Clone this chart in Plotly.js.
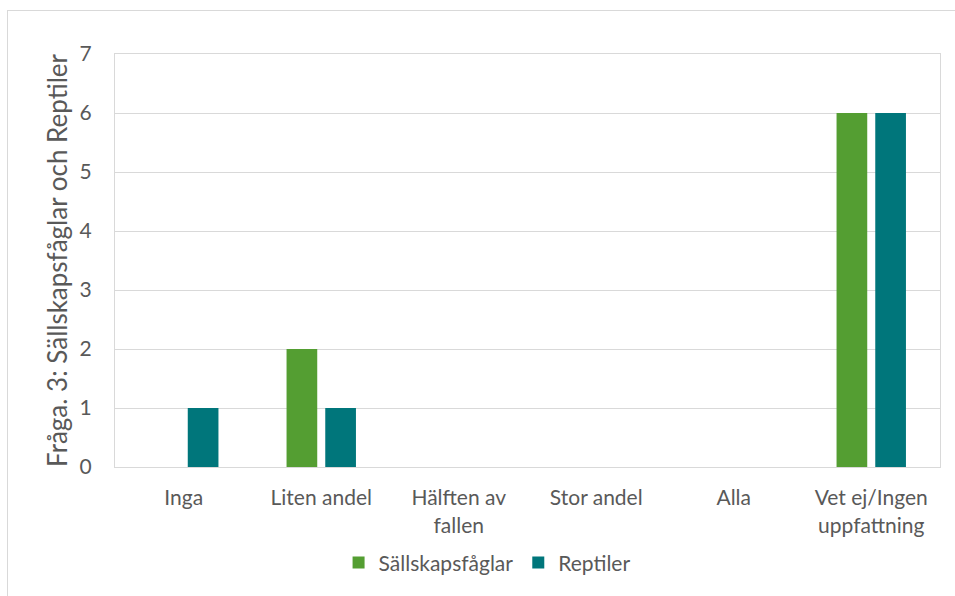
<!DOCTYPE html>
<html>
<head>
<meta charset="utf-8">
<script src="https://cdn.plot.ly/plotly-3.0.1.min.js"></script>
<style>
html, body { margin:0; padding:0; overflow:hidden; background:#ffffff; width:955px; height:596px; }
#frame { position:absolute; left:7px; top:10px; width:1200px; height:800px; border:1px solid #d9d9d9; box-sizing:border-box; }
#chart { position:absolute; left:0; top:0; width:955px; height:596px; }
</style>
</head>
<body>
<div id="frame"></div>
<div id="chart"></div>
<script>
const categories = ["Inga", "Liten andel", "Hälften av<br>fallen", "Stor andel", "Alla", "Vet ej/Ingen<br>uppfattning"];
const sallskapsfaglar = [0, 2, 0, 0, 0, 6];
const reptiler = [1, 1, 0, 0, 0, 6];
const seriesNames = ["Sällskapsfåglar", "Reptiler"];
const yTitle = "Fråga. 3: Sällskapsfåglar och Reptiler";

const FONT = "Lato, 'Open Sans', sans-serif";
const GREY = "#595959";

const data = [
  { type: "bar", name: seriesNames[0], x: categories, y: sallskapsfaglar, marker: { color: "#549e32" }, hoverinfo: "none" },
  { type: "bar", name: seriesNames[1], x: categories, y: reptiler, marker: { color: "#00767b" }, hoverinfo: "none" }
];

const layout = {
  width: 955, height: 596,
  paper_bgcolor: "rgba(0,0,0,0)",
  plot_bgcolor: "rgba(0,0,0,0)",
  margin: { l: 115, r: 15, t: 54, b: 129 },
  barmode: "group",
  bargap: 0.437,
  bargroupgap: 0.207,
  font: { family: FONT, size: 21, color: GREY },
  showlegend: true,
  legend: {
    orientation: "h", x: 0.451, xanchor: "center", y: -0.232, yanchor: "middle",
    font: { family: FONT, size: 21, color: GREY }, itemwidth: 30, traceorder: "normal"
  },
  xaxis: {
    type: "category",
    showline: true, mirror: true, linecolor: "#d9d9d9", linewidth: 1,
    showgrid: false, ticks: "", tickfont: { family: FONT, size: 21, color: GREY },
    ticklabelstandoff: 12,
    fixedrange: true
  },
  yaxis: {
    range: [0, 7], dtick: 1, tick0: 0,
    showline: true, mirror: true, linecolor: "#d9d9d9", linewidth: 1,
    showgrid: true, gridcolor: "#d9d9d9", gridwidth: 1,
    zeroline: false,
    ticks: "", tickfont: { family: FONT, size: 21, color: GREY },
    ticklabelstandoff: 18,
    title: { text: yTitle, font: { family: FONT, size: 26, color: GREY }, standoff: 4 },
    fixedrange: true
  }
};

Plotly.newPlot("chart", data, layout, { displayModeBar: false, staticPlot: true });
</script>
</body>
</html>
